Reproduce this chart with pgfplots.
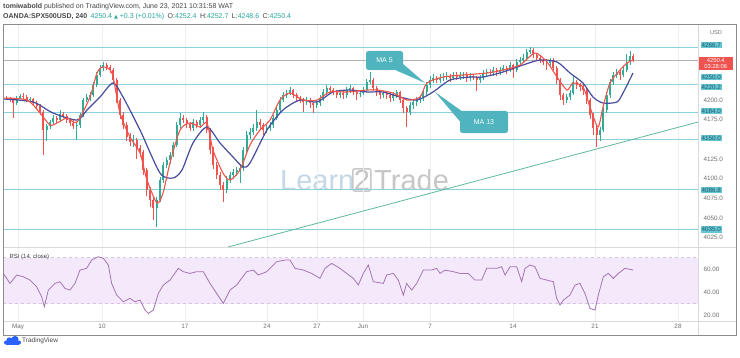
\documentclass[border=0pt]{standalone}
\usepackage{pgfplots}
\pgfplotsset{compat=1.18}
\usepackage{pgfplotstable}
\usepackage{fontspec}
\setmainfont{Liberation Sans}
\newfontfamily\dejavu{DejaVu Sans}
\definecolor{upc}{RGB}{50,170,150}
\definecolor{dnc}{RGB}{239,83,80}
\definecolor{maF}{RGB}{240,85,75}
\definecolor{maS}{RGB}{72,76,156}
\definecolor{lvl}{RGB}{140,210,222}
\definecolor{lvlfill}{RGB}{100,198,212}
\definecolor{lvltext}{RGB}{35,85,100}
\definecolor{trend}{RGB}{95,185,155}
\definecolor{callout}{RGB}{80,180,190}
\definecolor{rsic}{RGB}{165,115,180}
\definecolor{band}{RGB}{244,233,251}
\definecolor{bandline}{RGB}{215,195,225}
\definecolor{gridc}{RGB}{237,240,242}
\definecolor{sep}{RGB}{215,218,220}
\definecolor{framec}{RGB}{140,140,140}
\definecolor{txt}{RGB}{70,70,70}
\definecolor{lab}{RGB}{110,110,110}
\definecolor{hdrteal}{RGB}{38,166,154}
\definecolor{tvblue}{RGB}{41,98,255}
\pgfplotstableread{
n o h l c d
2 4203 4205 4200.5 4202.5 0
3 4202.5 4204 4198 4200 0
4 4200 4201.5 4177 4196 0
5 4196 4205 4194 4202.5 1
6 4202.5 4208 4201 4205 1
7 4205 4209 4201 4204 0
8 4204 4206 4197 4200 0
9 4200 4204 4197 4201 1
10 4201 4203 4193 4196 0
11 4196 4199 4189 4192.5 0
12 4192.5 4195 4181 4185 0
13 4185 4187 4130 4162 0
14 4162 4170 4148 4167 1
15 4167 4175 4163 4172 1
16 4172 4181 4169 4177 1
17 4177 4180 4171 4174.5 0
18 4174.5 4187 4172 4182 1
19 4182 4185 4177 4180 0
20 4180 4182 4171 4174.5 0
21 4174.5 4177 4167 4171 0
22 4171 4174 4163 4167 0
23 4167 4172 4149 4168 1
24 4168 4184 4165 4181 1
25 4181 4203 4179 4200 1
26 4200 4208 4197 4204 1
27 4204 4210 4199 4206 1
28 4206 4223 4204 4219 1
29 4219 4236 4216 4232 1
30 4232 4245 4229 4240.5 1
31 4240.5 4248 4237 4244.5 1
32 4244.5 4247 4238 4242 0
33 4242 4245 4234 4238 0
34 4238 4241 4222 4225.5 0
35 4225.5 4228 4196 4200 0
36 4200 4203 4176 4181 0
37 4181 4185 4163 4168 0
38 4168 4172 4148 4153 0
39 4153 4158 4141 4146.5 0
40 4146.5 4155 4140 4149 1
41 4149 4152 4125 4139 0
42 4139 4143 4128 4134 0
43 4134 4137 4105 4111 0
44 4111 4114 4078 4085.5 0
45 4085.5 4090 4064 4073 0
46 4073 4078 4048 4063 0
47 4063 4077 4038 4073 1
48 4073 4102 4070 4098.5 1
49 4098.5 4121 4095 4117.5 1
50 4117.5 4128 4113 4124 1
51 4124 4134 4119 4130 1
52 4130 4147 4127 4143 1
53 4143 4172 4140 4168 1
54 4168 4184 4165 4177 1
55 4177 4181 4171 4174.5 0
56 4174.5 4177 4165 4169.5 0
57 4169.5 4172 4160 4164.5 0
58 4164.5 4176 4161 4172 1
59 4172 4175 4164 4168 0
60 4168 4178 4165 4174.5 1
61 4174.5 4185 4171 4178.5 1
62 4178.5 4181 4158 4162 0
63 4162 4165 4131 4136.5 0
64 4136.5 4140 4112 4117.5 0
65 4117.5 4121 4099 4104.5 0
66 4104.5 4108 4086 4092 0
67 4092 4096 4070 4085.5 0
68 4085.5 4103 4082 4098.5 1
69 4098.5 4108 4095 4104.5 1
70 4104.5 4112 4100 4108.5 1
71 4108.5 4115 4104 4111 1
72 4111 4117 4095 4113.5 1
73 4113.5 4140 4110 4136.5 1
74 4136.5 4160 4133 4155.5 1
75 4155.5 4164 4151 4159.5 1
76 4159.5 4169 4156 4164.5 1
77 4164.5 4187 4161 4172 1
78 4172 4176 4163 4168 0
79 4168 4171 4155 4162 0
80 4162 4168 4158 4164.5 1
81 4164.5 4172 4161 4168 1
82 4168 4181 4165 4177 1
83 4177 4191 4174 4187.5 1
84 4187.5 4204 4185 4200 1
85 4200 4210 4197 4206 1
86 4206 4213 4203 4209 1
87 4209 4216 4206 4212.5 1
88 4212.5 4214 4202 4206 0
89 4206 4209 4199 4202.5 0
90 4202.5 4205 4196 4200 0
91 4200 4203 4185 4197.5 0
92 4197.5 4204 4194 4200 1
93 4200 4203 4190 4196 0
94 4196 4198 4184 4193.5 0
95 4193.5 4200 4190 4196 1
96 4196 4206 4193 4202.5 1
97 4202.5 4214 4199 4210 1
98 4210 4219 4207 4215 1
99 4215 4218 4209 4212.5 0
100 4212.5 4215 4206 4210 0
101 4210 4213 4202 4206 0
102 4206 4212 4203 4209 1
103 4209 4211 4201 4206 0
104 4206 4216 4203 4212.5 1
105 4212.5 4219 4209 4215 1
106 4215 4217 4206 4210 0
107 4210 4213 4200 4207.5 0
108 4207.5 4213 4204 4209 1
109 4209 4216 4206 4212.5 1
110 4212.5 4227 4210 4223 1
111 4223 4235 4220 4225.5 1
112 4225.5 4228 4211 4215 0
113 4215 4218 4205 4210 0
114 4210 4213 4201 4206 0
115 4206 4212 4203 4209 1
116 4209 4212 4201 4206 0
117 4206 4209 4198 4202.5 0
118 4202.5 4210 4199 4206 1
119 4206 4213 4203 4210 1
120 4210 4212 4196 4200 0
121 4200 4203 4184 4190 0
122 4190 4193 4166 4185 0
123 4185 4197 4181 4193.5 1
124 4193.5 4201 4189 4197.5 1
125 4197.5 4204 4193 4200 1
126 4200 4206 4196 4202.5 1
127 4202.5 4214 4199 4210 1
128 4210 4223 4206 4219 1
129 4219 4230 4215 4225.5 1
130 4225.5 4233 4222 4228 1
131 4228 4231 4221 4225.5 0
132 4225.5 4233 4222 4228 1
133 4228 4234 4224 4229 1
134 4229 4235 4225 4230.5 1
135 4230.5 4233 4223 4228 0
136 4228 4236 4225 4232 1
137 4232 4235 4225 4229 0
138 4229 4235 4226 4230.5 1
139 4230.5 4236 4227 4232 1
140 4232 4235 4223 4228 0
141 4228 4234 4224 4230.5 1
142 4230.5 4233 4225 4229 0
143 4229 4231 4212 4225.5 0
144 4225.5 4232 4222 4228 1
145 4228 4238 4225 4234.5 1
146 4234.5 4240 4231 4235.5 1
147 4235.5 4239 4230 4234 0
148 4234 4242 4231 4238 1
149 4238 4241 4231 4235.5 0
150 4235.5 4242 4232 4238 1
151 4238 4245 4235 4240.5 1
152 4240.5 4243 4233 4238 0
153 4238 4248 4235 4244.5 1
154 4244.5 4246 4228 4238 0
155 4238 4252 4235 4248.5 1
156 4248.5 4255 4245 4251 1
157 4251 4258 4248 4253.5 1
158 4253.5 4265 4250 4261 1
159 4261 4267 4258 4263.5 1
160 4263.5 4266 4253 4257 0
161 4257 4260 4249 4253.5 0
162 4253.5 4256 4247 4251 0
163 4251 4254 4244 4248.5 0
164 4248.5 4252 4238 4247 0
165 4247 4254 4243 4251 1
166 4251 4253 4236 4240.5 0
167 4240.5 4243 4220 4225.5 0
168 4225.5 4228 4200 4206 0
169 4206 4209 4194 4200 0
170 4200 4208 4196 4204 1
171 4204 4213 4200 4209 1
172 4209 4232 4206 4223 1
173 4223 4226 4214 4219 0
174 4219 4222 4212 4217 0
175 4217 4220 4206 4212.5 0
176 4212.5 4215 4195 4200 0
177 4200 4203 4176 4181 0
178 4181 4184 4155 4164.5 0
179 4164.5 4168 4140 4155.5 0
180 4155.5 4166 4148 4162 1
181 4162 4191 4159 4187.5 1
182 4187.5 4210 4184 4206 1
183 4206 4227 4203 4223 1
184 4223 4236 4219 4232 1
185 4232 4240 4228 4235.5 1
186 4235.5 4239 4225 4232 0
187 4232 4242 4229 4238 1
188 4238 4259 4235 4248.5 1
189 4248.5 4262 4245 4256 1
190 4256 4258 4248.6 4250.4 0
}\candles
\begin{document}
\begin{tikzpicture}[x=1pt,y=1pt]
\path[use as bounding box, fill=white] (0,0) rectangle (740,357);
% watermark
\begin{scope}[font=\fontsize{29}{30}\selectfont]
\node[anchor=base west, inner sep=0, text={rgb,255:red,196;green,216;blue,230}] at (280,167) {Learn};
\node[anchor=base west, inner sep=1pt, draw={rgb,255:red,200;green,200;blue,200}, line width=1.5pt, rounded corners=2pt, text={rgb,255:red,196;green,196;blue,196}] at (352,167) {2};
\node[anchor=base west, inner sep=0, text={rgb,255:red,198;green,198;blue,198}] at (374,167) {Trade};
\end{scope}
% ---------------- price panel
\begin{axis}[at={(3pt,110pt)}, anchor=south west, scale only axis, width=695pt, height=223pt,
  xmin=0.9, xmax=209.4, ymin=4013.2, ymax=4296.6,
  clip mode=individual,
  axis line style={draw=none}, tick style={draw=none},
  xtick={5.4,30.6,55.5,80.1,95.1,108.9,129,153.9,178.5,203.4}, xticklabels={},
  ytick={4025,4050,4075,4100,4125,4175,4200},
  yticklabel pos=right,
  yticklabel style={font=\fontsize{6.3}{7}\selectfont, text=lab, xshift=2pt, /pgf/number format/.cd, fixed, fixed zerofill, precision=1, 1000 sep={}, assume math mode=true},
  scaled y ticks=false,
  xmajorgrids, grid style={gridc, line width=0.4pt},
]
% level lines
\addplot[lvl, line width=0.7pt] coordinates {(0.9,4266.7) (209.4,4266.7)};
\addplot[lvl, line width=0.7pt] coordinates {(0.9,4250.0) (209.4,4250.0)};
\addplot[lvl, line width=0.7pt] coordinates {(0.9,4220.2) (209.4,4220.2)};
\addplot[lvl, line width=0.7pt] coordinates {(0.9,4184.0) (209.4,4184.0)};
\addplot[lvl, line width=0.7pt] coordinates {(0.9,4150.0) (209.4,4150.0)};
\addplot[lvl, line width=0.7pt] coordinates {(0.9,4086.8) (209.4,4086.8)};
\addplot[lvl, line width=0.7pt] coordinates {(0.9,4035.0) (209.4,4035.0)};
\addplot[gray!60, line width=0.5pt] coordinates {(0.9,4250.4) (209.4,4250.4)};
% trend line
\addplot[trend, line width=0.8pt] coordinates {(68.4,4013.2) (209.4,4172.0)};
% candles: wicks (low to high); a bar of the other colour has zero length
\addplot[upc, line width=0.55pt, quiver={u=0, v={\thisrow{d}*(\thisrow{h}-\thisrow{l})}}]
  table[x=n, y=l] {\candles};
\addplot[dnc, line width=0.55pt, quiver={u=0, v={(1-\thisrow{d})*(\thisrow{h}-\thisrow{l})}}]
  table[x=n, y=l] {\candles};
% candles: bodies (open to close)
\addplot[upc, line width=2.2pt, quiver={u=0, v={\thisrow{d}*(\thisrow{c}-\thisrow{o})}}]
  table[x=n, y=o] {\candles};
\addplot[dnc, line width=2.2pt, quiver={u=0, v={(1-\thisrow{d})*(\thisrow{c}-\thisrow{o})}}]
  table[x=n, y=o] {\candles};
% MA 13
\addplot[maS, line width=1.2pt, smooth, tension=0.45] coordinates {
(0.9,4201.3) (9.9,4197.5) (15.9,4183.5) (23.1,4174.6) (26.1,4187.3) (30,4203.8) (33.9,4221.6) (36.9,4203.8) (42,4161.9) (48,4107.2) (51.9,4100.9) (54.6,4111.1) (57.9,4145.4) (62.1,4165.7) (66,4145.4) (69.9,4127.6) (72.9,4114.9) (75,4120) (80.1,4161.9) (84.9,4187.3) (90,4200) (95.1,4197.5) (99.9,4210.2) (105,4212.7) (110.1,4210.2) (114.9,4210.2) (120,4203.8) (125.1,4200) (129.9,4210.2) (135,4225.4) (141,4229.2) (144.9,4229.2) (150.9,4235.6) (156.9,4244.5) (162,4250.8) (167.1,4248.3) (171,4234.3) (174.9,4221.6) (177.9,4203.8) (180.9,4196.2) (185.1,4197.5) (186.9,4208.9) (189.9,4234.3)};
% MA 5
\addplot[maF, line width=1.1pt, smooth, tension=0.45] coordinates {
(0.9,4202.5) (8.1,4200) (12,4183.5) (15,4168.2) (17.1,4170.8) (20.1,4177.1) (23.1,4172) (27,4203.8) (29.1,4234.3) (30.9,4241.9) (33.6,4234.3) (36,4183.5) (39,4153) (42,4132.7) (44.1,4098.4) (47.1,4069.1) (48.9,4081.8) (51,4120) (54,4161.9) (57,4170.8) (60,4165.7) (62.1,4170.8) (63.9,4136.5) (66.9,4107.2) (69,4098.4) (72,4111.1) (75,4142.8) (78,4161.9) (81,4174.6) (84,4200) (87,4208.9) (90.9,4200) (95.1,4200) (99,4210.2) (104.1,4210.2) (110.1,4212.7) (113.1,4212.7) (117.9,4208.9) (122.1,4200) (126,4203.8) (128.1,4221.6) (132.9,4229.2) (138.9,4231.8) (146.1,4234.3) (150.9,4238.1) (156,4244.5) (160.5,4259.7) (164.1,4248.3) (167.1,4229.2) (170.1,4212.7) (171.9,4221.6) (174.9,4216.5) (177,4191.1) (179.4,4165.7) (180.9,4191.1) (183,4221.6) (186,4238.1) (188.1,4247) (189.9,4250.8)};
% price scale labels
\tikzset{lv/.style={anchor=west, fill=lvlfill, text=lvltext, font=\fontsize{6.3}{7}\selectfont, inner sep=1pt, xshift=2.5pt}}
\node[lv] at (axis cs:209.4,4269.9) {4266.7};
\node[lv] at (axis cs:209.4,4229.2) {4250.0};
\node[lv] at (axis cs:209.4,4216.5) {4220.2};
\node[lv] at (axis cs:209.4,4186.0) {4184.0};
\node[lv] at (axis cs:209.4,4151.7) {4150.0};
\node[lv] at (axis cs:209.4,4085.6) {4086.8};
\node[lv] at (axis cs:209.4,4035.5) {4035.0};
\node[anchor=west, fill=dnc, text=white, align=center, font=\fontsize{5.8}{6.6}\selectfont, inner sep=1pt, minimum width=34pt, xshift=0.5pt] at (axis cs:209.4,4246.4) {4250.4\\03:28:06};
\end{axis}
% ---------------- RSI panel
\begin{axis}[at={(3pt,36pt)}, anchor=south west, scale only axis, width=695pt, height=73pt,
  xmin=0.9, xmax=209.4, ymin=14.8, ymax=78.3,
  axis line style={draw=none}, tick style={draw=none},
  xtick={5.4,30.6,55.5,80.1,95.1,108.9,129,153.9,178.5,203.4},
  xticklabels={May,10,17,24,27,Jun,7,14,21,28},
  xticklabel style={font=\fontsize{6.3}{7}\selectfont, text=lab},
  ytick={20,40,60}, yticklabel pos=right,
  yticklabel style={font=\fontsize{6.3}{7}\selectfont, text=lab, xshift=2pt, /pgf/number format/.cd, fixed, fixed zerofill, precision=2, assume math mode=true},
  xmajorgrids, grid style={gridc, line width=0.4pt},
]
\addplot[fill=band, draw=none] coordinates {(0.9,30) (209.4,30) (209.4,70) (0.9,70)} -- cycle;
\addplot[bandline, dashed, line width=0.4pt] coordinates {(0.9,70) (209.4,70)};
\addplot[bandline, dashed, line width=0.4pt] coordinates {(0.9,30) (209.4,30)};
\addplot[rsic, line width=0.8pt] coordinates {
(1,56.2) (3,47.5) (5,54.8) (7,53.3) (9,50.4) (11,44.6) (12.5,35.9) (13.3,27.2) (14.5,41.7) (16.5,47.5) (18,49) (19.5,43.2) (21,41.7) (22.5,47.5) (24,59.1) (26,60.6) (27.5,67.8) (29.5,70.7) (31,69.3) (32.5,63.5) (33.5,47.5) (35,37.4) (37,31.6) (39,34.5) (40.5,31.6) (42,33) (43.5,24.3) (44.5,21.4) (46,24.3) (47.5,38.8) (49,46.1) (51,50.4) (53.5,60.6) (55,57.7) (57,56.2) (59,57.7) (61,57.7) (63,47.5) (65,38.8) (67,30.1) (69,41.7) (71,46.1) (72.5,51.9) (74,57.7) (76,59.1) (77.5,54.8) (80,57.7) (83,66.4) (85.5,67.8) (87,67.8) (88.5,60.6) (91,59.1) (93.5,56.2) (96,51.9) (97.5,60.6) (99.5,64.9) (102,60.6) (104,56.2) (106,51.9) (107.5,46.1) (109,56.2) (110.5,63.5) (112,49) (115,47.5) (116,54.8) (118,56.2) (119.5,50.4) (121,37.4) (122,47.5) (123.5,41.7) (125,47.5) (127,59.1) (129.5,59.1) (131,60.6) (132,56.2) (133.5,59.1) (136,57.7) (138,56.2) (140.5,56.2) (142.5,50.4) (144.5,50.4) (146,60.6) (149,60.6) (150.5,62) (151.5,54.8) (153,62) (155,62) (156.5,49) (157.5,60.6) (159,63.5) (160.5,62) (162,51.9) (164,50.4) (166,49) (167,34.5) (168,28.7) (169,33) (171,37.4) (172.5,46.1) (174,47.5) (175.5,38.8) (177,25.8) (178.5,24.3) (179.5,37.4) (181,53.3) (182.5,56.2) (184,51.9) (185.5,56.2) (187.5,60.6) (190,59.1)};
\end{axis}
% ---------------- frame and separators
\draw[sep, line width=0.6pt] (698,22) -- (698,333);
\draw[sep, line width=0.6pt] (3,109.5) -- (736,109.5);
\draw[sep, line width=0.6pt] (3,36) -- (736,36);
\draw[framec, line width=0.8pt] (3,22) rectangle (736,333);
\node[anchor=center, font=\fontsize{5.6}{6}\selectfont, text=lab] at (716,324) {USD};
\node[anchor=west, font=\fontsize{6}{7}\selectfont, text=txt] at (6,100) {RSI (14, close)};
% callouts
\fill[callout] (393,288) -- (402,294) -- (425,274) -- cycle;
\fill[callout, rounded corners=2.5pt] (366,287) rectangle (403,306);
\node[text=white, font=\fontsize{7}{8}\selectfont] at (384.5,296.5) {MA 5};
\fill[callout] (463,245) -- (463,232) -- (435,265) -- cycle;
\fill[callout, rounded corners=2.5pt] (460,224) rectangle (508,246);
\node[text=white, font=\fontsize{7}{8}\selectfont] at (484,235) {MA 13};
% header
\node[anchor=base west, inner sep=0, font=\fontsize{7}{8}\selectfont, text=txt] at (3,348.5) {\textbf{tomiwabold} published on TradingView.com, June 23, 2021 10:31:58 WAT};
\node[anchor=base west, inner sep=0, font=\fontsize{7}{8}\selectfont, text=txt] at (3,338.5) {\textbf{OANDA:SPX500USD, 240}\enspace \textcolor{hdrteal}{4250.4 {\dejavu\fontsize{5}{6}\selectfont ▲} +0.3 (+0.01\%)}\enspace O:\textcolor{hdrteal}{4252.4}\enspace H:\textcolor{hdrteal}{4252.7}\enspace L:\textcolor{hdrteal}{4248.6}\enspace C:\textcolor{hdrteal}{4250.4}};
% TradingView logo
\fill[tvblue] (6,12.5) rectangle (19,16.5);
\fill[tvblue] (9.5,16.5) circle (3.2);
\fill[tvblue] (15,17.5) circle (3.6);
\fill[tvblue] (6,14.5) circle (2);
\fill[tvblue] (19,14.5) circle (2);
\node[anchor=west, inner sep=0, font=\fontsize{6.5}{7}\selectfont, text=txt] at (22,16) {TradingView};
\end{tikzpicture}
\end{document}
